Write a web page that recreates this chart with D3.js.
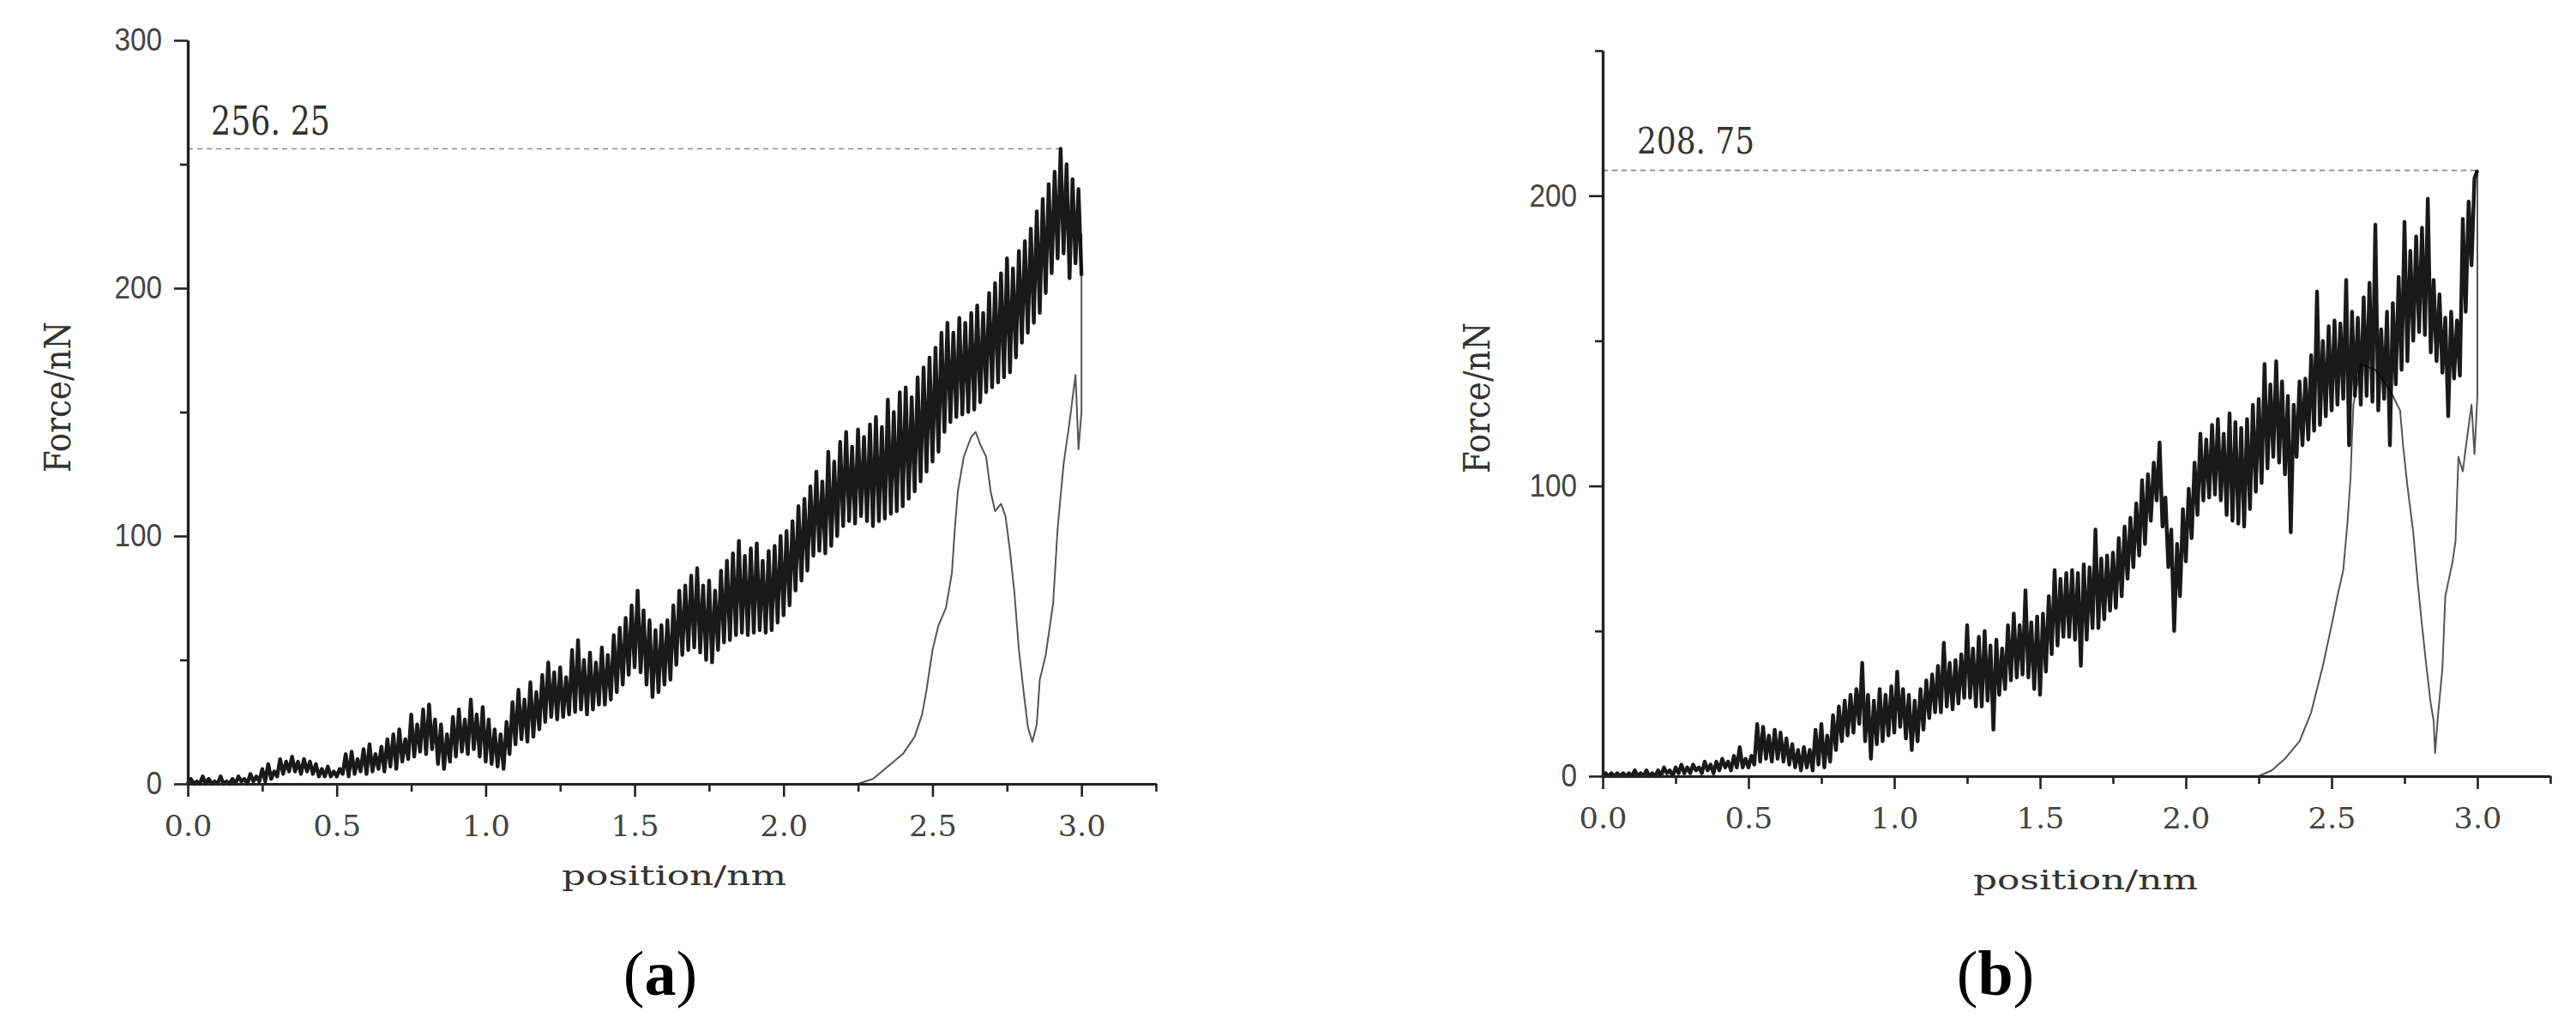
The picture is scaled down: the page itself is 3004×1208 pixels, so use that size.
<!DOCTYPE html>
<html>
<head>
<meta charset="utf-8">
<script src="https://cdn.jsdelivr.net/npm/d3@7"></script>
<style>
  html, body { margin: 0; padding: 0; background: #fff; }
  svg { display: block; }
</style>
</head>
<body>
<svg id="chart" width="3004" height="1208"></svg>
<script>
// ---------------- DATA ----------------
const xTicksMajor = [0, 0.5, 1, 1.5, 2, 2.5, 3];
const xTickLabels = ["0.0", "0.5", "1.0", "1.5", "2.0", "2.5", "3.0"];
const xTicksMinor = [0.25, 0.75, 1.25, 1.75, 2.25, 2.75, 3.25];
const yTicksMajorA = [0, 100, 200, 300];
const yTicksMinorA = [50, 150, 250];
const yTicksMajorB = [0, 100, 200];
const yTicksMinorB = [50, 150, 250];
const xTitle = "position/nm";
const yTitle = "Force/nN";
const panelLetters = ["a", "b"];
const peakLabels = ["256. 25", "208. 75"];

const forceA = [
  0,2,0,1,0, 3,0,2,0,1, 0,3,0,1,0, 2,0,3,1,2, 0,4,1,3,1, 6,1,8,2,5, 3,10,4,9,5, 11,5,9,4,10, 5,9,4,8,3, 6,3,7,3,5,
  3,6,4,12,3, 13,4,10,5,14, 4,16,5,12,6, 15,5,18,7,20, 6,22,9,18,10, 28,11,24,13,30, 12,32,14,26,8, 24,6,20,9,27, 11,30,13,26,12, 34,14,28,11,31,
  9,26,8,22,7, 20,6,25,12,33, 16,38,18,34,17, 41,19,37,22,44, 25,49,27,45,26, 47,27,43,28,54, 29,58,30,50,28, 53,30,49,32,55, 32,52,34,60,37, 63,40,67,44,72,
  47,78,45,70,40, 66,35,62,37,64, 40,66,42,72,48, 78,52,80,54,84, 55,87,53,80,50, 82,49,78,54,86, 57,90,58,93,60, 98,61,92,60,95, 61,97,62,90,61, 94,62,96,65,100,
  68,102,72,106,78, 112,82,115,86,120, 92,126,94,122,93, 134,96,130,100,138, 104,142,106,136,105, 143,108,140,106,145, 104,148,106,144,107, 155,109,150,110,158, 112,160,115,156,118, 164,122,168,126,172,
  130,176,134,182,142, 186,146,182,148,188, 149,186,150,190,151, 193,154,190,158,198, 160,202,162,206,164, 212,166,208,172,215, 178,219,182,224,186, 231,190,236,198,242, 206,247,212,256.25,214, 250,204,244,210,240,
  205
];
// retract curve (a)
const retractAx = [2.25,2.30,2.35,2.40,2.44,2.465,2.48,2.50,2.52,2.545,2.565,2.575,2.585,2.605,2.63,2.645,2.66,2.68,2.695,2.71,2.73,2.745,2.76,2.775,2.79,2.805,2.82,2.835,2.85,2.86,2.88,2.905,2.92,2.94,2.96,2.98,2.99,3.00,3.00];
const retractAy = [0,2,7,12,19,28,38,54,64,71,85,103,118,132,140,142,137,132,118,110,113,108,94,77,54,38,23,17,24,42,52,73,103,129,146,165,135,150,222];

// approach curve (b), sampled every 0.01 nm from 0 to 3.0 nm
const forceB = [
  0,1,0,1,0, 1,0,1,0,1, 0,2,0,1,0, 2,0,1,0,2, 0,3,1,2,0, 3,1,4,1,3, 1,4,2,3,1, 5,2,4,1,5, 2,6,3,5,2, 7,3,10,3,6,
  3,7,4,18,5, 17,6,14,5,16, 6,15,5,13,4, 11,3,9,2,10, 3,9,2,16,4, 18,3,14,5,21, 9,24,12,26,14, 28,15,30,18,39, 12,28,6,26,11, 30,12,28,14,31,
  15,36,17,30,13, 28,9,26,12,30, 16,33,20,35,22, 38,22,46,24,39, 23,40,25,42,27, 52,27,44,24,48, 24,50,26,45,16, 47,28,44,30,52, 33,56,34,52,35, 64,34,53,30,55,
  28,56,36,62,42, 71,45,68,48,70, 48,71,47,70,38, 73,47,72,51,85, 51,75,54,76,57, 77,58,82,62,86, 68,89,72,94,76, 102,80,104,88,108, 95,115,86,96,72, 85,50,80,62,92,
  74,99,82,108,90, 118,95,116,96,121, 97,123,95,118,90, 125,88,122,87,120, 86,123,92,128,98, 130,101,142,106,135, 110,143,108,136,104, 131,84,128,110,136, 114,137,116,145,119, 167,121,150,124,155,
  126,157,128,156,130, 171,114,160,131,158, 128,165,131,170,129, 190,126,154,130,160, 114,163,135,172,140, 191,143,181,150,186, 153,189,152,199,146, 171,143,166,139,158, 124,160,137,157,138, 192,160,198,176,206,
  208.75
];
// retract curve (b)
const retractBx = [2.25,2.295,2.34,2.39,2.43,2.47,2.50,2.52,2.54,2.555,2.565,2.57,2.575,2.60,2.65,2.70,2.735,2.745,2.76,2.78,2.795,2.81,2.825,2.84,2.85,2.855,2.865,2.88,2.89,2.915,2.925,2.935,2.95,2.965,2.98,2.99,3.00,3.00];
const retractBy = [0,2,6,12,22,38,52,62,71,88,103,117,128,142,140,133,126,114,100,84,67,52,38,25,19,8,21,37,62,74,81,110,105,117,128,111,131,209];

// ---------------- DRAW ----------------
const svg = d3.select("#chart");
svg.append("rect").attr("width", 3004).attr("height", 1208).attr("fill", "#fff");

const panels = [
  { force: forceA, rx: retractAx, ry: retractAy, ymax: 300, yMajor: yTicksMajorA, yMinor: yTicksMinorA,
    xr: [219, 1348], yr: [914, 47], label: peakLabels[0], labelDx: 27, labelDy: -16, labelLen: 139, labelSize: 46,
    xTitleX: 786, xTitleY: 1032, yTitleX: 82, yTitleY: 463, letter: panelLetters[0], letterX: 770 },
  { force: forceB, rx: retractBx, ry: retractBy, ymax: 250, yMajor: yTicksMajorB, yMinor: yTicksMinorB,
    xr: [1869, 2974], yr: [905, 59], label: peakLabels[1], labelDx: 40, labelDy: -20, labelLen: 137, labelSize: 42,
    xTitleX: 2432, xTitleY: 1037, yTitleX: 1737, yTitleY: 464, letter: panelLetters[1], letterX: 2327 }
];

panels.forEach(p => {
  const g = svg.append("g");
  const x = d3.scaleLinear().domain([0, 3.25]).range(p.xr);
  const y = d3.scaleLinear().domain([0, p.ymax]).range(p.yr);
  const step = 3.0 / (p.force.length - 1);
  const mainPts = p.force.map((v, i) => [i * step, v]);
  const peakVal = d3.max(p.force);
  const peakX = mainPts[d3.maxIndex(p.force)][0];

  // dashed peak line
  g.append("line")
    .attr("x1", x(0)).attr("x2", x(peakX))
    .attr("y1", y(peakVal)).attr("y2", y(peakVal))
    .attr("stroke", "#8a8a8a").attr("stroke-width", 1.6)
    .attr("stroke-dasharray", "6,5");

  g.append("text")
    .attr("x", x(0) + p.labelDx).attr("y", y(peakVal) + p.labelDy)
    .attr("font-family", "'DejaVu Serif', serif").attr("font-size", p.labelSize)
    .attr("fill", "#333")
    .attr("textLength", p.labelLen).attr("lengthAdjust", "spacingAndGlyphs")
    .text(p.label);

  const line = d3.line().x(d => x(d[0])).y(d => y(d[1]));

  // retract curve
  const retractPts = p.rx.map((v, i) => [v, p.ry[i]]);
  g.append("path").datum(retractPts)
    .attr("d", line).attr("fill", "none")
    .attr("stroke", "#555").attr("stroke-width", 2)
    .attr("stroke-linejoin", "round");

  // approach curve (noisy band)
  g.append("path").datum(mainPts)
    .attr("d", line).attr("fill", "none")
    .attr("stroke", "#000").attr("stroke-width", 4.4)
    .attr("stroke-linejoin", "round").attr("stroke-opacity", 0.9);

  // axes
  const axisColor = "#222";
  const xMinor = g.append("g").attr("transform", `translate(0,${y(0)})`)
    .call(d3.axisBottom(x).tickValues(xTicksMinor).tickSize(9).tickSizeOuter(0).tickFormat(""));
  const xMajor = g.append("g").attr("transform", `translate(0,${y(0)})`)
    .call(d3.axisBottom(x).tickValues(xTicksMajor).tickSize(15).tickSizeOuter(0).tickPadding(22)
      .tickFormat((d, i) => xTickLabels[i]));
  const yMinor = g.append("g").attr("transform", `translate(${x(0)},0)`)
    .call(d3.axisLeft(y).tickValues(p.yMinor).tickSize(9).tickSizeOuter(0).tickFormat(""));
  const yMajor = g.append("g").attr("transform", `translate(${x(0)},0)`)
    .call(d3.axisLeft(y).tickValues(p.yMajor).tickSize(16).tickSizeOuter(0).tickPadding(14)
      .tickFormat(d3.format("d")));

  [xMinor, xMajor, yMinor, yMajor].forEach(a => {
    a.select(".domain").attr("stroke", axisColor).attr("stroke-width", 3.2);
    a.selectAll(".tick line").attr("stroke", axisColor).attr("stroke-width", 2.6);
  });
  xMajor.selectAll(".tick text")
    .attr("font-family", "'DejaVu Serif', serif").attr("font-size", 34)
    .attr("fill", "#444")
    .attr("textLength", 56).attr("lengthAdjust", "spacingAndGlyphs");
  yMajor.selectAll(".tick text")
    .attr("font-family", "'Liberation Sans Narrow', 'Liberation Sans', Arial, sans-serif")
    .attr("font-size", 37).attr("fill", "#444")
    .each(function() {
      const t = d3.select(this);
      t.attr("textLength", t.text().length * 18.5).attr("lengthAdjust", "spacingAndGlyphs");
    });

  // axis titles
  g.append("text")
    .attr("x", p.xTitleX).attr("y", p.xTitleY)
    .attr("text-anchor", "middle")
    .attr("font-family", "'DejaVu Serif', serif").attr("font-size", 32)
    .attr("fill", "#333")
    .attr("textLength", 262).attr("lengthAdjust", "spacingAndGlyphs")
    .text(xTitle);

  g.append("text")
    .attr("transform", `translate(${p.yTitleX},${p.yTitleY}) rotate(-90)`)
    .attr("text-anchor", "middle")
    .attr("font-family", "'DejaVu Serif', serif").attr("font-size", 42)
    .attr("fill", "#333")
    .attr("textLength", 176).attr("lengthAdjust", "spacingAndGlyphs")
    .text(yTitle);

  // panel letter
  const lt = g.append("text")
    .attr("x", p.letterX).attr("y", 1160)
    .attr("text-anchor", "middle")
    .attr("font-family", "'Liberation Serif', 'Times New Roman', serif").attr("font-size", 74)
    .attr("fill", "#000");
  lt.append("tspan").text("(");
  lt.append("tspan").attr("font-weight", "bold").text(p.letter);
  lt.append("tspan").text(")");
});
</script>
</body>
</html>
